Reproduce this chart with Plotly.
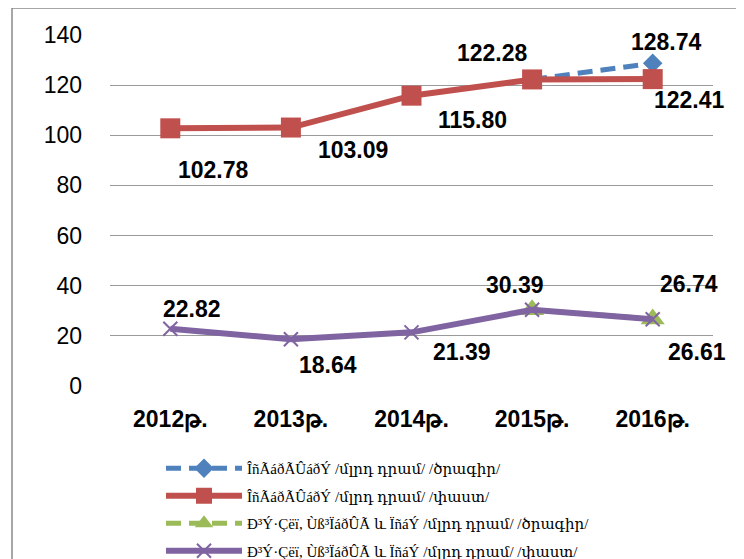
import plotly.graph_objects as go

years = ["2012թ.", "2013թ.", "2014թ.", "2015թ.", "2016թ."]

names = [
    "ÎñÃáðÃÛáðÝ /մլրդ դրամ/ /ծրագիր/",
    "ÎñÃáðÃÛáðÝ /մլրդ դրամ/ /փաստ/",
    "Ð³Ý·Çëï, Ùß³ÏáðÛÃ և ÏñáÝ /մլրդ դրամ/ /ծրագիր/",
    "Ð³Ý·Çëï, Ùß³ÏáðÛÃ և ÏñáÝ /մլրդ դրամ/ /փաստ/",
]

edu_plan = [None, None, None, 122.28, 128.74]
edu_fact = [102.78, 103.09, 115.80, 122.28, 122.41]
cult_plan = [None, None, None, 30.39, 26.74]
cult_fact = [22.82, 18.64, 21.39, 30.39, 26.61]

y_ticks = [0, 20, 40, 60, 80, 100, 120, 140]

# label pixel offsets (dx right, dy down); None = no label
edu_plan_off = [None, None, None, (-40, -26), (14, -21)]
edu_fact_off = [(43, 42), (62, 22), (61, 24), None, (37, 21)]
cult_plan_off = [None, None, None, (-17, -25), (36, -35)]
cult_fact_off = [(22, -20), (37, 26), (50, 20), None, (44, 33)]

BLUE = "#4F81BD"
RED = "#C0504D"
GREEN = "#9BBB59"
PURPLE = "#8064A2"

fig = go.Figure()
fig.add_trace(go.Scatter(x=years, y=edu_plan, name=names[0], mode="lines+markers",
                         line=dict(color=BLUE, width=5, dash="15px,8px"),
                         marker=dict(symbol="diamond", size=15, color=BLUE),
                         legendgroup="a"))
fig.add_trace(go.Scatter(x=years, y=edu_fact, name=names[1], mode="lines+markers",
                         line=dict(color=RED, width=6),
                         marker=dict(symbol="square", size=20, color=RED),
                         legendgroup="b"))
fig.add_trace(go.Scatter(x=years, y=cult_plan, name=names[2], mode="lines+markers",
                         line=dict(color=GREEN, width=5, dash="15px,8px"),
                         marker=dict(symbol="triangle-up", size=21, color=GREEN),
                         legendgroup="c"))
fig.add_trace(go.Scatter(x=years, y=cult_fact, name=names[3], mode="lines+markers",
                         line=dict(color=PURPLE, width=6),
                         marker=dict(symbol="x-thin", size=14, color=PURPLE,
                                     line=dict(color=PURPLE, width=2)),
                         legendgroup="d"))

LABEL_FONT = dict(family="Liberation Sans, Arial, sans-serif", size=23, color="black")
annotations = []
for vals, offs in [(edu_plan, edu_plan_off), (edu_fact, edu_fact_off),
                   (cult_plan, cult_plan_off), (cult_fact, cult_fact_off)]:
    for xcat, v, o in zip(years, vals, offs):
        if v is None or o is None:
            continue
        annotations.append(dict(x=xcat, y=v, xref="x", yref="y", text=f"<b>{v:.2f}</b>",
                                showarrow=False, xshift=o[0], yshift=-o[1], font=LABEL_FONT))

# the page body adds an 8px margin, so page pixel p -> figure pixel p - 8
OFF = 8
W, H = 744 - OFF, 559 - OFF
L, T = 110 - OFF, 35 - OFF
pw, ph = 603, 351
R, B = W - L - pw, H - T - ph

def px_x(x):
    return (x - OFF - L) / pw

def px_y(y):
    return (T + ph - (y - OFF)) / ph

fig.update_layout(
    width=W, height=H,
    margin=dict(l=L, r=R, t=T, b=B, pad=0, autoexpand=False),
    paper_bgcolor="white", plot_bgcolor="white",
    font=dict(family="Liberation Sans, Arial, sans-serif", color="black"),
    xaxis=dict(type="category", range=[-0.5, 4.5], showgrid=False, showline=False,
               zeroline=False, ticks="", ticklabelstandoff=17, automargin=False,
               tickfont=dict(size=23, family="Liberation Sans, Arial, sans-serif", weight="bold")),
    yaxis=dict(range=[0, 140], tickvals=y_ticks, showgrid=True, gridcolor="#9a9a9a",
               gridwidth=1.3, zeroline=False, showline=False, ticks="", automargin=False,
               ticklabelstandoff=27, tickfont=dict(size=23)),
    showlegend=True,
    legend=dict(x=px_x(161), y=px_y(452), xanchor="left", yanchor="top",
                itemwidth=76, tracegroupgap=5, bgcolor="rgba(0,0,0,0)",
                font=dict(family="Liberation Serif, DejaVu Serif, serif", size=15, color="black")),
    annotations=annotations,
    shapes=[dict(type="rect", xref="paper", yref="paper",
                 x0=px_x(12), x1=px_x(737), y0=px_y(600), y1=px_y(8),
                 line=dict(color="#8a8a8a", width=1.5), fillcolor="rgba(0,0,0,0)", layer="below")],
)

fig.write_html("out.html")
